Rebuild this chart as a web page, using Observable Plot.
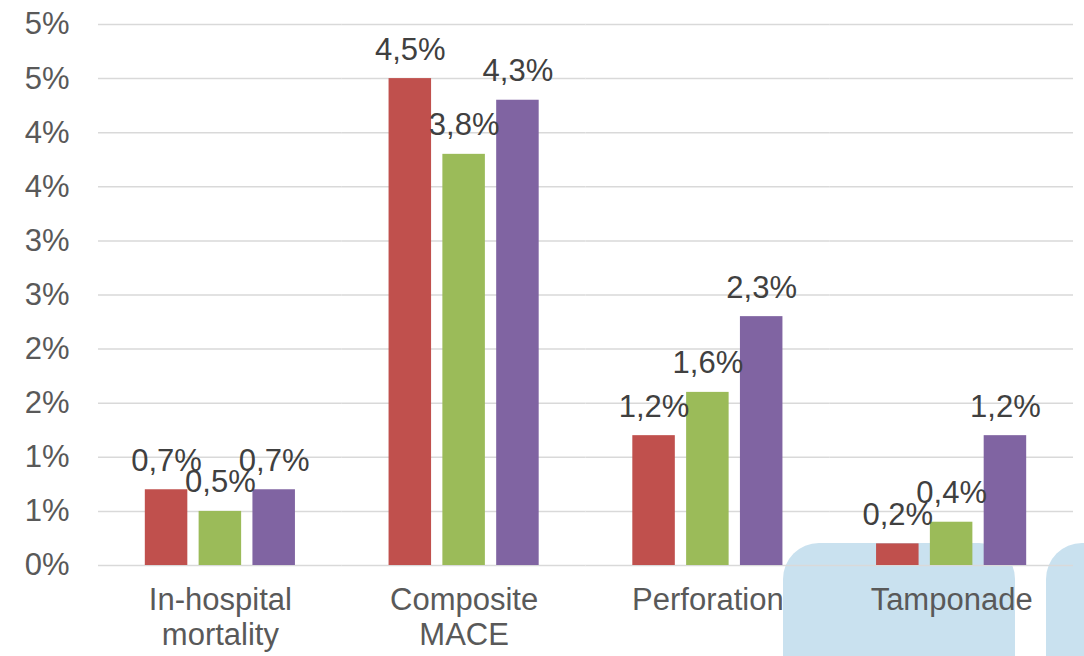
<!DOCTYPE html>
<html>
<head>
<meta charset="utf-8">
<script src="https://cdn.jsdelivr.net/npm/d3@7"></script>
<script src="https://cdn.jsdelivr.net/npm/@observablehq/plot@0.6"></script>
<style>
  html, body { margin: 0; padding: 0; background: #ffffff; }
  #wrap { position: relative; width: 1084px; height: 656px; overflow: hidden; }
  .wm { position: absolute; background: #c9e1ef; border-radius: 36px 36px 0 0; z-index: 0; }
  #chart { position: absolute; left: 0; top: 0; z-index: 1; }
</style>
</head>
<body>
<div id="wrap">
  <div class="wm" style="left:783px; top:543px; width:232px; height:140px;"></div>
  <div class="wm" style="left:1046px; top:543px; width:120px; height:140px;"></div>
  <div id="chart"></div>
</div>
<script>
const categories = ["In-hospital\nmortality", "Composite\nMACE", "Perforation", "Tamponade"];
const seriesNames = ["Series 1", "Series 2", "Series 3"];
const series1 = [0.7, 4.5, 1.2, 0.2];
const series2 = [0.5, 3.8, 1.6, 0.4];
const series3 = [0.7, 4.3, 2.3, 1.2];
const seriesColors = ["#c0504d", "#9bbb59", "#8064a2"];
const yTicks = [0, 0.5, 1, 1.5, 2, 2.5, 3, 3.5, 4, 4.5, 5];
const yTickLabels = ["0%", "1%", "1%", "2%", "2%", "3%", "3%", "4%", "4%", "5%", "5%"];

const allSeries = [series1, series2, series3];
const data = [];
categories.forEach((c, i) => {
  seriesNames.forEach((s, j) => {
    data.push({category: c, series: s, value: allSeries[j][i]});
  });
});
const fmt = v => v.toFixed(1).replace(".", ",") + "%";

const plot = Plot.plot({
  width: 1084,
  height: 656,
  marginLeft: 98,
  marginRight: 11,
  marginTop: 24,
  marginBottom: 91,
  style: {background: "transparent", fontFamily: "'Liberation Sans', Arial, sans-serif"},
  fx: {domain: categories, padding: 0, round: false, label: null},
  x: {domain: seriesNames, paddingInner: 0.21, paddingOuter: 0.87, round: false, axis: null},
  y: {domain: [0, 5], label: null},
  color: {domain: seriesNames, range: seriesColors},
  marks: [
    Plot.gridY(yTicks, {stroke: "#d9d9d9", strokeOpacity: 1, strokeWidth: 1.5}),
    Plot.axisY(yTicks, {
      tickSize: 0, tickPadding: 29, fontSize: 31, fill: "#595959",
      tickFormat: (d) => yTickLabels[yTicks.indexOf(d)], label: null
    }),
    Plot.axisFx({
      anchor: "bottom", tickSize: 0, tickPadding: 20, fontSize: 31, fill: "#595959",
      lineHeight: 1.13, label: null
    }),
    Plot.barY(data, {fx: "category", x: "series", y: "value", fill: "series"}),
    Plot.text(data, {
      fx: "category", x: "series", y: "value", text: d => fmt(d.value),
      lineAnchor: "bottom", dy: -19, fontSize: 31, fill: "#404040"
    })
  ]
});
document.getElementById("chart").appendChild(plot);
</script>
</body>
</html>
